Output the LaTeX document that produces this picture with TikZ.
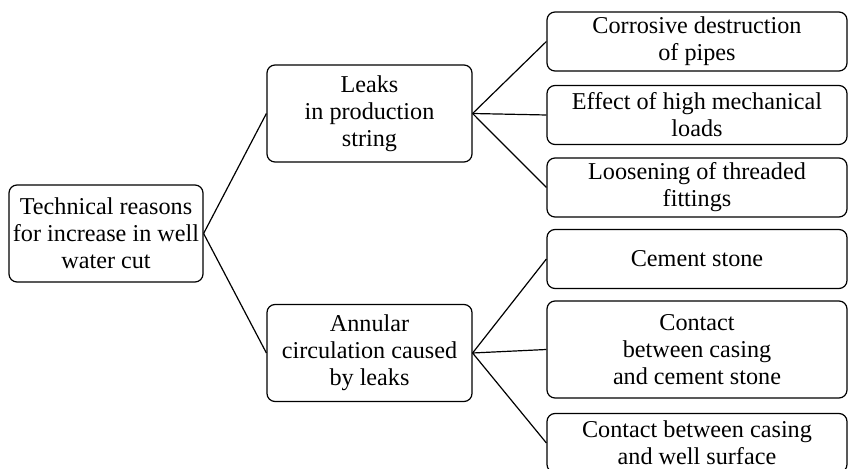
\documentclass[tikz,border=0pt]{standalone}
\usepackage{fontspec}
\setmainfont{Liberation Serif}
\usetikzlibrary{positioning}

\begin{document}
\begin{tikzpicture}[x=0.5pt,y=-0.5pt]

\tikzset{
    box/.style={draw, rounded corners=4pt, line width=0.6pt, align=center, inner sep=0pt,
      font=\fontsize{12.1}{13.5}\selectfont},
    mainbox/.style={box, minimum width=97pt, minimum height=48.5pt},
    midbox/.style={box, minimum width=102.5pt, minimum height=48.5pt},
    leafbox/.style={box, minimum width=150pt, minimum height=29.5pt},
    myline/.style={line width=0.6pt}
}

\clip (0,0) rectangle (848,469);

%%%%%%%%%%%%%%%%%%%%%%%%%%%%%%%%%%%%%%%%%%%%%%%%%%%%%%%%%
%                       Begin Picture                   %
%%%%%%%%%%%%%%%%%%%%%%%%%%%%%%%%%%%%%%%%%%%%%%%%%%%%%%%%%

%root
\node[mainbox] (reasons) at (106,233.5) {Technical reasons\\for increase in well\\water cut};

%middle branches
\node[midbox] (leaks) at (369.5,113.5) {Leaks\\in production\\string};
\node[midbox] (annular) at (369.5,353) {Annular\\circulation caused\\by leaks};

\draw[myline] (reasons.east) -- (leaks.west);
\draw[myline] (reasons.east) -- (annular.west);

%upper leaves
\node[leafbox] (corrosion) at (697,41.5) {Corrosive destruction\\of pipes};
\node[leafbox] (loads) at (697,115) {Effect of high mechanical\\loads};
\node[leafbox] (threads) at (697,187.5) {Loosening of threaded\\fittings};

\draw[myline] (leaks.east) -- (corrosion.west);
\draw[myline] (leaks.east) -- (loads.west);
\draw[myline] (leaks.east) -- (threads.west);

%lower leaves
\node[leafbox] (cement) at (697,259) {Cement stone};
\node[leafbox, minimum height=48.5pt] (casing) at (697,349.5) {Contact\\between casing\\and cement stone};
\node[leafbox] (surface) at (697,443) {Contact between casing\\and well surface};

\draw[myline] (annular.east) -- (cement.west);
\draw[myline] (annular.east) -- (casing.west);
\draw[myline] (annular.east) -- (surface.west);

\end{tikzpicture}
\end{document}
